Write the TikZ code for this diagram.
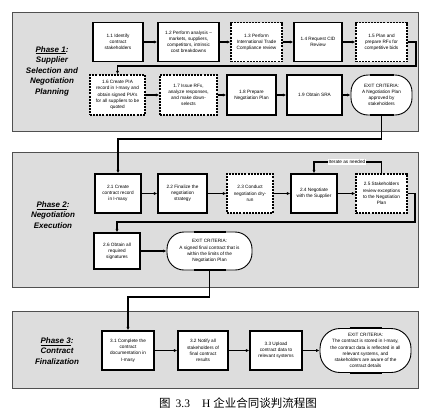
\documentclass[tikz,border=0pt]{standalone}
\usepackage{fontspec}
\setmainfont{Liberation Sans}
\newfontfamily\cjk{Noto Sans CJK SC}
\newfontfamily\capserif{Liberation Serif}
\usepackage{tikz}
\usetikzlibrary{arrows.meta,positioning,calc}
\definecolor{bandGray}{RGB}{221,221,221}
\definecolor{bandEdge}{RGB}{80,80,80}

\begin{document}
\begin{tikzpicture}[x=1pt,y=-1pt,
    band/.style={fill=bandGray, draw=bandEdge, line width=0.7pt},
    task/.style={draw, line width=1.4pt, fill=white, align=center,
      inner sep=1pt, font=\fontsize{4.7}{6.2}\selectfont},
    opt/.style={task, dash pattern=on 2pt off 1.1pt},
    exitc/.style={task, line width=0.9pt, rounded corners=17pt},
    phase/.style={align=center, font=\fontsize{8}{10.5}\selectfont\bfseries\itshape},
    flow/.style={-{Latex[length=3.5pt,width=3.2pt]}, line width=1.3pt}
  ]
  \useasboundingbox (0,0) rectangle (428,418);
  \draw[band] (12,12) rectangle (418,131);
  \draw[band] (12,152) rectangle (418,287);
  \draw[band] (12,311) rectangle (418,388);

  \node[phase] (ph1) at (52,71) {\underline{Phase 1}:\\Supplier\\Selection and\\Negotiation\\Planning};
  \node[phase] (ph2) at (53,215) {\underline{Phase 2}:\\Negotiation\\Execution};
  \node[phase] (ph3) at (57,351) {\underline{Phase 3}:\\Contract\\Finalization};

  \node[task, minimum width=50pt, minimum height=39pt] (s11) at (118,42) {1.1 Identify\\contract\\stakeholders};
  \node[task, minimum width=61pt, minimum height=39pt] (s12) at (188.5,42) {1.2 Perform analysis --\\markets, suppliers,\\competitors, intrinsic\\cost breakdowns};
  \node[opt, minimum width=51pt, minimum height=39pt] (s13) at (256.5,42) {1.3 Perform\\International Trade\\Compliance review};
  \node[task, minimum width=48pt, minimum height=39pt] (s14) at (318,42) {1.4 Request CID\\Review};
  \node[opt, minimum width=51pt, minimum height=39pt] (s15) at (381.5,42) {1.5 Plan and\\prepare RFx for\\competitive bids};

  \node[opt, minimum width=55pt, minimum height=40pt] (s16) at (117.5,95) {1.6 Create PIA\\record in I-masy and\\obtain signed PIA's\\for all suppliers to be\\quoted};
  \node[opt, minimum width=57pt, minimum height=40pt] (s17) at (188.5,95) {1.7 Issue RFx,\\analyze responses,\\and make down-\\selects};
  \node[task, minimum width=49pt, minimum height=40pt] (s18) at (251.5,95) {1.8 Prepare\\Negotiation Plan};
  \node[task, minimum width=55pt, minimum height=40pt] (s19) at (314.5,95) {1.9 Obtain SRA};
  \node[exitc, minimum width=61pt, minimum height=40pt] (e1) at (381.5,95) {EXIT CRITERIA:\\A Negotiation Plan\\approved by\\stakeholders};

  \node[task, minimum width=46pt, minimum height=39pt] (s21) at (118,193.5) {2.1 Create\\contract record\\in I-masy};
  \node[task, minimum width=49pt, minimum height=39pt] (s22) at (182.5,193.5) {2.2 Finalize the\\negotiation\\strategy};
  \node[opt, minimum width=46pt, minimum height=39pt] (s23) at (250,193.5) {2.3 Conduct\\negotiation dry-\\run};
  \node[task, minimum width=46pt, minimum height=39pt] (s24) at (314,193.5) {2.4 Negotiate\\with the Supplier};
  \node[opt, minimum width=51pt, minimum height=39pt] (s25) at (381.5,193.5) {2.5 Stakeholders\\review exceptions\\to the Negotiation\\Plan};
  \node[fill=white, inner sep=1pt, font=\fontsize{4.7}{6}\selectfont] (it) at (347,162) {Iterate as needed};

  \node[task, minimum width=46pt, minimum height=36pt] (s26) at (117,251) {2.6 Obtain all\\required\\signatures};
  \node[exitc, minimum width=85pt, minimum height=38pt] (e2) at (209.5,251) {EXIT CRITERIA:\\A signed final contract that is\\within the limits of the\\Negotiation Plan};

  \node[task, minimum width=52pt, minimum height=39pt] (s31) at (128,350.5) {3.1 Complete the\\contract\\documentation in\\I-masy};
  \node[task, minimum width=50pt, minimum height=39pt] (s32) at (203,350.5) {3.2 Notify all\\stakeholders of\\final contract\\results};
  \node[task, minimum width=52pt, minimum height=39pt] (s33) at (276,350.5) {3.3 Upload\\contract data to\\relevant systems};
  \node[exitc, minimum width=91pt, minimum height=44pt, rounded corners=20pt] (e3) at (365.5,350.5) {EXIT CRITERIA:\\The contract is stored in I-masy,\\the contract data is reflected in all\\relevant systems, and\\stakeholders are aware of the\\contract details};

  \draw[line width=2pt] ([xshift=-12pt]e1.north) -- ([xshift=12pt]e1.north);
  \draw[line width=2pt] ([xshift=-12pt]e1.south) -- ([xshift=12pt]e1.south);
  \draw[line width=2pt] ([xshift=-16pt]e2.north) -- ([xshift=16pt]e2.north);
  \draw[line width=2pt] ([xshift=-16pt]e2.south) -- ([xshift=16pt]e2.south);
  \draw[line width=2pt] ([xshift=-16pt]e3.north) -- ([xshift=16pt]e3.north);
  \draw[line width=2pt] ([xshift=-16pt]e3.south) -- ([xshift=16pt]e3.south);

  \coordinate (c1) at (416,66);
  \coordinate (c2) at (250,139);
  \coordinate (c4) at (415,222);
  \coordinate (c5) at (170,297);

  \draw[flow] (s11) -- (s12);
  \draw[flow] (s12) -- (s13);
  \draw[flow] (s13) -- (s14);
  \draw[flow] (s14) -- (s15);
  \draw[flow] (s15.east) -| (c1) -| (s16.north);
  \draw[flow] (s16) -- (s17);
  \draw[flow] (s17) -- (s18);
  \draw[flow] (s18) -- (s19);
  \draw[flow] (s19) -- (e1);
  \draw[flow] (e1.south) |- (c2) -| (s21.north);

  \draw[flow] (s21) -- (s22);
  \draw[flow] (s22) -- (s23);
  \draw[flow] (s23) -- (s24);
  \draw[flow] (s24) -- (s25);
  \draw[line width=1.3pt] (s25.north) |- (it.east);
  \draw[flow] (it.west) -| (s24.north);
  \draw[flow] (s25.east) -| (c4) -| (s26.north);
  \draw[flow] (s26) -- (e2);
  \draw[flow] (e2.south) |- (c5) -| (s31.north);

  \draw[flow] (s31) -- (s32);
  \draw[flow] (s32) -- (s33);
  \draw[flow] (s33) -- (e3);

  \node (cap) at (238,403) {\fontsize{11.5}{12}\selectfont\cjk 图\hspace{5pt}{\capserif 3.3}\hspace{12pt}{\capserif H}\hspace{3pt}企业合同谈判流程图};
\end{tikzpicture}
\end{document}
